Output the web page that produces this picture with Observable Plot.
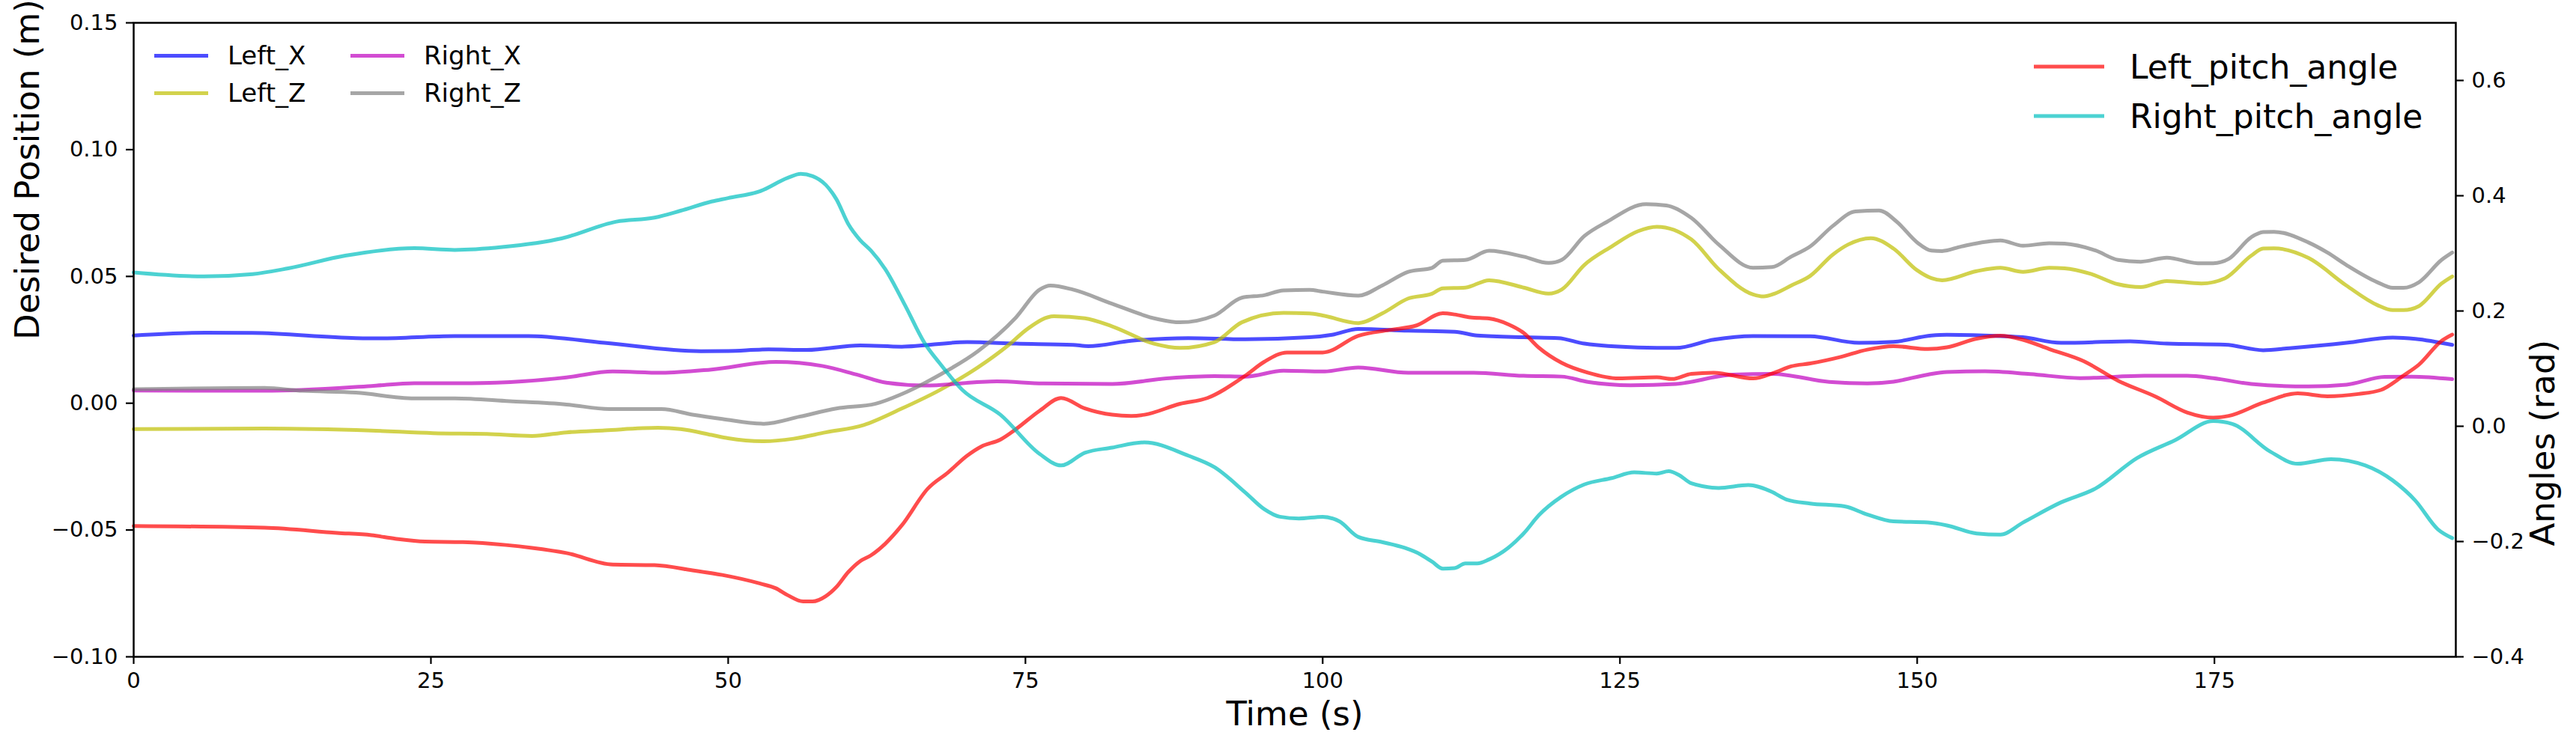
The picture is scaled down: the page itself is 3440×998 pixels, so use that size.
<!DOCTYPE html>
<html>
<head>
<meta charset="utf-8">
<script src="https://cdn.jsdelivr.net/npm/d3@7"></script>
<script src="https://cdn.jsdelivr.net/npm/@observablehq/plot@0.6"></script>
<style>
  html, body { margin: 0; padding: 0; background: white; }
  #wrap { position: relative; width: 3440px; height: 998px; font-family: "DejaVu Sans", sans-serif; }
  .leg { position: absolute; display: flex; align-items: center; transform: translateY(-50%); white-space: nowrap; color: black; }
  .leg .h { height: 5px; opacity: 0.7; }
</style>
</head>
<body>
<div id="wrap"></div>
<script>
// ---- Data ----
const xTicks = [0, 25, 50, 75, 100, 125, 150, 175];
const leftTicks = [-0.10, -0.05, 0.00, 0.05, 0.10, 0.15];
const rightTicks = [-0.4, -0.2, 0.0, 0.2, 0.4, 0.6];

const leftXTime = [0, 6, 10, 18.7, 20.7, 27, 33.2, 39.6, 47.7, 50, 53.4, 56.6, 61.1, 64.6, 70.1, 74.2, 79, 80.3, 83.9, 88.7, 93.5, 98.9, 100.8, 103, 107.2, 111.1, 113, 116.9, 119.8, 122, 126.5, 129.7, 132.9, 136.2, 141, 145.1, 148, 151.2, 152.5, 157, 158.9, 162.1, 167.9, 171, 175.9, 179.1, 181.3, 186.1, 190, 191.9, 195];
const leftXValues = [0.0267, 0.0278, 0.0277, 0.0257, 0.0256, 0.0265, 0.0265, 0.0238, 0.0205, 0.0206, 0.0212, 0.0210, 0.0228, 0.0223, 0.0241, 0.0235, 0.0230, 0.0225, 0.0246, 0.0257, 0.0252, 0.0260, 0.0270, 0.0293, 0.0286, 0.0282, 0.0267, 0.0260, 0.0257, 0.0235, 0.0220, 0.0218, 0.0251, 0.0265, 0.0264, 0.0238, 0.0242, 0.0267, 0.0270, 0.0265, 0.0260, 0.0238, 0.0244, 0.0235, 0.0231, 0.0209, 0.0217, 0.0238, 0.0259, 0.0254, 0.0230];

const leftZTime = [0, 11, 20, 25.2, 29.7, 33.5, 36.4, 39.6, 44.1, 46, 48.6, 50, 53, 55.5, 58.2, 61.4, 64.6, 67.8, 71, 73.6, 75.2, 77.4, 80, 82.3, 85.8, 88, 90.9, 93.2, 96.7, 98.9, 100, 103, 105, 107.2, 109.2, 110.1, 112, 114, 116.9, 119, 120.1, 122, 124.3, 126.5, 128.1, 131, 133.3, 136.2, 137.1, 138, 139.4, 141, 142.9, 144.2, 146.1, 148, 150, 151.2, 152.1, 155, 157, 158.9, 161.1, 162.4, 164.6, 166.9, 168.8, 171, 173.9, 175.9, 178.1, 179.1, 180, 182.9, 186.1, 188.7, 190, 190.9, 192.2, 194.1, 195];
const leftZValues = [-0.0102, -0.0100, -0.0108, -0.0118, -0.0121, -0.0129, -0.0115, -0.0107, -0.0097, -0.0102, -0.0125, -0.0138, -0.0150, -0.0140, -0.0115, -0.0086, -0.0021, 0.0052, 0.0141, 0.0230, 0.0294, 0.0343, 0.0335, 0.0303, 0.0235, 0.0218, 0.0241, 0.0319, 0.0356, 0.0354, 0.0346, 0.0316, 0.0354, 0.0413, 0.0432, 0.0453, 0.0456, 0.0485, 0.0456, 0.0432, 0.0448, 0.0545, 0.0618, 0.0678, 0.0696, 0.0646, 0.0529, 0.0429, 0.0421, 0.0432, 0.0464, 0.0502, 0.0586, 0.0626, 0.0651, 0.0610, 0.0524, 0.0493, 0.0485, 0.0521, 0.0534, 0.0518, 0.0534, 0.0532, 0.0510, 0.0469, 0.0458, 0.0482, 0.0472, 0.0493, 0.0582, 0.0610, 0.0611, 0.0573, 0.0464, 0.0387, 0.0367, 0.0367, 0.0383, 0.0472, 0.0500];

const rightXTime = [0, 11, 20, 23.6, 28.4, 32.9, 36.4, 40.3, 44.4, 48.6, 54, 57.9, 60.8, 63.3, 66.5, 72.6, 76.5, 82.3, 87.1, 90.9, 93.5, 96.7, 100, 103, 107.2, 112.7, 116.9, 120.1, 122.3, 125.9, 129.7, 134.5, 137.8, 142.6, 145.8, 148, 150.9, 152.5, 155.7, 159.5, 163.7, 169.1, 172.7, 174.9, 178.1, 182.9, 186.1, 189.3, 191.6, 195];
const rightXValues = [0.0050, 0.0049, 0.0068, 0.0079, 0.0079, 0.0087, 0.0102, 0.0125, 0.0120, 0.0133, 0.0163, 0.0147, 0.0113, 0.0081, 0.0070, 0.0086, 0.0078, 0.0076, 0.0099, 0.0107, 0.0105, 0.0128, 0.0125, 0.0141, 0.0120, 0.0120, 0.0108, 0.0105, 0.0084, 0.0071, 0.0076, 0.0113, 0.0116, 0.0084, 0.0078, 0.0085, 0.0113, 0.0123, 0.0126, 0.0115, 0.0099, 0.0108, 0.0108, 0.0099, 0.0076, 0.0066, 0.0073, 0.0104, 0.0105, 0.0095];

const rightZTime = [0, 11, 14.2, 18.7, 23.6, 27, 31.6, 36.4, 40, 44.4, 47, 49.5, 53, 56, 59.1, 62.4, 64.6, 67.8, 71, 74.2, 76.2, 77.1, 79, 82.3, 86.1, 88, 90.9, 93.2, 95.1, 96.7, 98.9, 100, 103, 105, 107.2, 109.2, 110.1, 112, 114, 116.9, 119, 120.1, 122, 123.9, 127.2, 128.9, 131, 133.3, 136.2, 137.8, 139.4, 141, 142.9, 144.8, 146.8, 148.3, 150, 151.2, 152.1, 153.7, 157, 158.9, 161.1, 162.4, 165, 166.9, 168.8, 171, 173.6, 174.9, 176.2, 178.1, 179.1, 180, 182.9, 184.5, 186.1, 188.7, 190, 190.9, 192.2, 194.1, 195];
const rightZValues = [0.0055, 0.0060, 0.0049, 0.0042, 0.0019, 0.0019, 0.0008, -0.0005, -0.0023, -0.0023, -0.0045, -0.0062, -0.0081, -0.0053, -0.0021, -0.0002, 0.0036, 0.0112, 0.0205, 0.0338, 0.0448, 0.0464, 0.0448, 0.0392, 0.0332, 0.0319, 0.0346, 0.0416, 0.0426, 0.0445, 0.0447, 0.0440, 0.0424, 0.0464, 0.0518, 0.0534, 0.0562, 0.0565, 0.0601, 0.0578, 0.0553, 0.0565, 0.0659, 0.0715, 0.0785, 0.0780, 0.0731, 0.0626, 0.0534, 0.0537, 0.0578, 0.0618, 0.0699, 0.0756, 0.0760, 0.0715, 0.0634, 0.0602, 0.0600, 0.0618, 0.0642, 0.0621, 0.0631, 0.0629, 0.0602, 0.0565, 0.0558, 0.0574, 0.0552, 0.0552, 0.0569, 0.0655, 0.0675, 0.0676, 0.0634, 0.0594, 0.0545, 0.0477, 0.0455, 0.0455, 0.0477, 0.0565, 0.0594];

const leftPitchTime = [0, 11, 17.1, 20, 22, 24.5, 27.7, 31.3, 33.5, 36.4, 40.3, 43.8, 47, 49.5, 52.7, 54, 55, 56.3, 57.1, 58.2, 59.1, 60.1, 61.1, 62, 63.2, 64.6, 66.8, 68.5, 70.1, 71.3, 72.9, 74.2, 76.2, 78, 80, 82.3, 83.9, 85, 88, 90.3, 93.5, 95.1, 97, 100, 103, 105.6, 107.9, 110.1, 111.1, 112.4, 114, 115.6, 116.9, 118.2, 120.1, 122.3, 124.9, 128.1, 129.4, 131, 132.9, 136.2, 138, 139.4, 141, 143.5, 145.8, 148, 150.9, 152.5, 155, 157, 158.9, 161.1, 164, 166.9, 170.1, 172.7, 174.9, 176.2, 179.1, 182, 184.5, 187.1, 189, 190.9, 192.2, 194.1, 195];
const leftPitchValues = [-0.173, -0.176, -0.185, -0.189, -0.195, -0.200, -0.201, -0.206, -0.211, -0.220, -0.240, -0.241, -0.250, -0.258, -0.273, -0.281, -0.293, -0.304, -0.304, -0.295, -0.279, -0.253, -0.234, -0.224, -0.204, -0.172, -0.108, -0.080, -0.051, -0.035, -0.023, -0.005, 0.027, 0.049, 0.031, 0.020, 0.018, 0.020, 0.039, 0.049, 0.088, 0.112, 0.128, 0.128, 0.157, 0.167, 0.175, 0.196, 0.194, 0.189, 0.187, 0.177, 0.162, 0.136, 0.110, 0.093, 0.083, 0.085, 0.082, 0.091, 0.093, 0.083, 0.093, 0.104, 0.109, 0.120, 0.133, 0.139, 0.134, 0.137, 0.152, 0.157, 0.150, 0.134, 0.113, 0.079, 0.051, 0.024, 0.015, 0.018, 0.041, 0.057, 0.052, 0.056, 0.063, 0.088, 0.107, 0.148, 0.159];

const rightPitchTime = [0, 5.9, 10, 13, 17.8, 23.6, 27, 31, 36, 40.6, 43.8, 46, 48.6, 50, 52.7, 55, 56.1, 57.1, 58.2, 59.1, 60.1, 61.1, 62, 63.2, 64.9, 66.5, 67.8, 69.7, 72.9, 76.2, 78, 80, 82.3, 85, 88.7, 90.9, 93.5, 95.1, 96.4, 98, 100, 101.4, 103, 105, 106.9, 108.2, 109.2, 110.1, 111.1, 112, 113, 114, 115.6, 116.9, 118.2, 120.1, 122, 124.3, 126.2, 128.1, 129.1, 130, 131, 133.3, 135.8, 137.8, 139, 141, 143.9, 145.8, 148, 150.9, 152.5, 155, 157, 158.9, 162.1, 165, 168.5, 171.7, 174.9, 176.5, 179.7, 182, 184.8, 187.7, 190, 191.9, 193.8, 195];
const rightPitchValues = [0.267, 0.260, 0.264, 0.274, 0.296, 0.309, 0.306, 0.311, 0.326, 0.355, 0.362, 0.374, 0.390, 0.396, 0.408, 0.431, 0.438, 0.434, 0.419, 0.394, 0.351, 0.323, 0.305, 0.273, 0.209, 0.145, 0.109, 0.063, 0.020, -0.048, -0.068, -0.046, -0.037, -0.028, -0.051, -0.071, -0.115, -0.144, -0.157, -0.160, -0.157, -0.165, -0.192, -0.201, -0.211, -0.222, -0.235, -0.247, -0.246, -0.238, -0.238, -0.231, -0.211, -0.186, -0.154, -0.122, -0.101, -0.090, -0.080, -0.082, -0.078, -0.085, -0.099, -0.107, -0.102, -0.114, -0.127, -0.134, -0.139, -0.153, -0.165, -0.167, -0.172, -0.186, -0.188, -0.167, -0.132, -0.108, -0.055, -0.024, 0.009, 0.004, -0.044, -0.065, -0.057, -0.068, -0.094, -0.129, -0.179, -0.194];

const positionSeries = ["Left_X", "Left_Z", "Right_X", "Right_Z"];
const angleSeries = ["Left_pitch_angle", "Right_pitch_angle"];
const seriesColors = {
  Left_X: "#0000ff", Left_Z: "#bfbf00", Right_X: "#bf00bf", Right_Z: "#808080",
  Left_pitch_angle: "#ff0000", Right_pitch_angle: "#00bfbf"
};

// ---- Build tables ----
const toRows = (name, ts, vs) => ts.map((t, i) => ({series: name, t, v: vs[i]}));
// right (angle) axis mapped onto the left (position) scale
const angleToPos = d3.scaleLinear().domain([-0.4, 0.7]).range([-0.10, 0.15]);
const posToAngle = angleToPos.invert;

const posRows = [
  ...toRows("Left_X", leftXTime, leftXValues),
  ...toRows("Left_Z", leftZTime, leftZValues),
  ...toRows("Right_X", rightXTime, rightXValues),
  ...toRows("Right_Z", rightZTime, rightZValues)
];
const angRows = [
  ...toRows("Left_pitch_angle", leftPitchTime, leftPitchValues),
  ...toRows("Right_pitch_angle", rightPitchTime, rightPitchValues)
].map(d => ({...d, vp: angleToPos(d.v)}));

const fontSize = 29;
const axisOpts = {tickSize: 10, tickPadding: 11, fontSize, strokeWidth: 2.2, label: null};

const chart = Plot.plot({
  width: 3440, height: 998,
  marginLeft: 178, marginRight: 161, marginTop: 30, marginBottom: 121,
  style: {fontFamily: "DejaVu Sans", background: "white", color: "black", overflow: "visible"},
  x: {domain: [0, 195.3]},
  y: {domain: [-0.10, 0.15]},
  marks: [
    Plot.axisX(xTicks, {...axisOpts, tickFormat: d3.format("d")}),
    Plot.axisY(leftTicks, {...axisOpts, anchor: "left", tickFormat: d3.format(".2f")}),
    Plot.axisY(rightTicks.map(angleToPos), {...axisOpts, anchor: "right",
      tickFormat: d => d3.format(".1f")(Math.round(posToAngle(d) * 10) / 10 + 0)}),
    Plot.lineY(posRows, {x: "t", y: "v", z: "series", stroke: d => seriesColors[d.series],
      strokeWidth: 5, strokeOpacity: 0.7, curve: "monotone-x"}),
    Plot.lineY(angRows, {x: "t", y: "vp", z: "series", stroke: d => seriesColors[d.series],
      strokeWidth: 5, strokeOpacity: 0.7, curve: "monotone-x"}),
    Plot.frame({stroke: "black", strokeWidth: 2.5}),
    Plot.text(["Time (s)"], {frameAnchor: "bottom", dy: 91, fontSize: 45, fill: "black"}),
    Plot.text(["Desired Position (m)"], {frameAnchor: "left", dx: -141, rotate: -90, fontSize: 45, fill: "black"}),
    Plot.text(["Angles (rad)"], {frameAnchor: "right", dx: 117, rotate: -90, fontSize: 45, fill: "black"})
  ]
});

const wrap = document.getElementById("wrap");
wrap.appendChild(chart);

// ---- Legends (overlay) ----
function addEntry(name, left, top, handleW, gap, size) {
  const el = document.createElement("div");
  el.className = "leg";
  el.style.left = left + "px";
  el.style.top = top + "px";
  el.style.fontSize = size + "px";
  const h = document.createElement("div");
  h.className = "h";
  h.style.width = handleW + "px";
  h.style.background = seriesColors[name];
  h.style.marginRight = gap + "px";
  const s = document.createElement("span");
  s.textContent = name;
  el.appendChild(h); el.appendChild(s);
  wrap.appendChild(el);
}
// left legend: 2 columns (Left_X, Left_Z | Right_X, Right_Z)
addEntry(positionSeries[0], 206, 74, 72, 26, 34);
addEntry(positionSeries[1], 206, 124, 72, 26, 34);
addEntry(positionSeries[2], 468, 74, 72, 26, 34);
addEntry(positionSeries[3], 468, 124, 72, 26, 34);
// right legend
addEntry(angleSeries[0], 2716, 89, 94, 34, 44);
addEntry(angleSeries[1], 2716, 155, 94, 34, 44);
</script>
</body>
</html>
